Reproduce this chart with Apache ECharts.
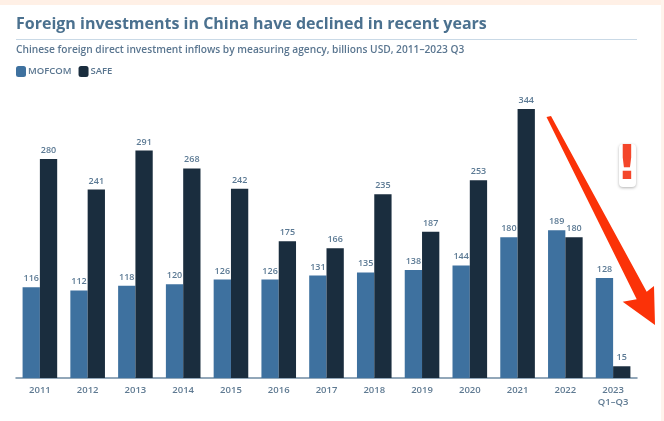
<!DOCTYPE html>
<html><head><meta charset="utf-8">
<style>html,body{margin:0;padding:0;background:#fff}#c{width:664px;height:421px;filter:blur(0.4px)}</style>
<script src="https://cdn.jsdelivr.net/npm/echarts@6/dist/echarts.min.js"></script>
</head><body><div id="c"></div>
<script>
const categories=['2011','2012','2013','2014','2015','2016','2017','2018','2019','2020','2021','2022','2023\nQ1–Q3'];
const mofcom=[116,112,118,120,126,126,131,135,138,144,180,189,128];
const safe=[280,241,291,268,242,175,166,235,187,253,344,180,15];
const FONT='"Open Sans", Lato, sans-serif';
const chart=echarts.init(document.getElementById('c'),null,{renderer:'canvas'});
const lbl={show:true,position:'top',distance:4,color:'#5c7a94',fontSize:9,fontWeight:600,fontFamily:FONT};
chart.setOption({
 animation:false,backgroundColor:'#fff',
 title:[
  {text:'Foreign investments in China have declined in recent years',left:16,top:16,padding:0,
   textStyle:{color:'#4b718f',fontSize:16,fontWeight:'bold',fontFamily:FONT}},
  {text:'Chinese foreign direct investment inflows by measuring agency, billions USD, 2011–2023 Q3',left:16,top:45,padding:0,
   textStyle:{color:'#5a7690',fontSize:10.2,fontWeight:600,fontFamily:FONT}}
 ],
 legend:{left:16,top:66,padding:0,itemWidth:10,itemHeight:11,itemGap:7,icon:'roundRect',
  textStyle:{color:'#5a7690',fontSize:9.5,fontWeight:600,fontFamily:FONT,padding:[0,0,0,-3]}},
 grid:{left:16,right:27,top:109,bottom:43},
 xAxis:{type:'category',data:categories,
  axisLine:{lineStyle:{color:'#6f8ba3',width:1.5}},axisTick:{show:false},
  axisLabel:{color:'#5f7a92',fontSize:9.5,fontWeight:600,fontFamily:FONT,margin:6,lineHeight:12,interval:0}},
 yAxis:{type:'value',min:0,max:344,show:false,splitLine:{show:false}},
 series:[
  {name:'MOFCOM',type:'bar',data:mofcom,barWidth:17.3,barGap:'0%',itemStyle:{color:'#3e719f'},label:lbl},
  {name:'SAFE',type:'bar',data:safe,barWidth:17.3,itemStyle:{color:'#1a2d3e'},label:lbl}
 ],
 graphic:[
  {type:'rect',silent:true,z:-1,shape:{x:0,y:0,width:664,height:5},style:{fill:'#fff0e6'}},
  {type:'rect',silent:true,z:-1,shape:{x:661,y:0,width:3,height:421},style:{fill:'#fff3ec'}},
  {type:'rect',silent:true,shape:{x:16,y:39,width:621,height:1},style:{fill:'#c9d9e6'}},
  {type:'polygon',silent:true,z:10,shape:{points:[[546.5,117],[551,116],[646.7,291.7],[654,286],[655,325],[622.7,301.7],[636.7,299.3]]},style:{fill:'#fb3208'}},
  {type:'rect',silent:true,z:9,shape:{x:619,y:144,width:17,height:43,r:4},style:{fill:'#fff',shadowBlur:3,shadowColor:'rgba(0,0,0,0.3)',shadowOffsetY:1}},
  {type:'text',silent:true,z:10,style:{text:'!',x:627,y:167,align:'center',verticalAlign:'middle',fontSize:48,fontWeight:'bold',fontFamily:'"DejaVu Sans"',fill:'#f4462a'}}
 ]
});
</script></body></html>
